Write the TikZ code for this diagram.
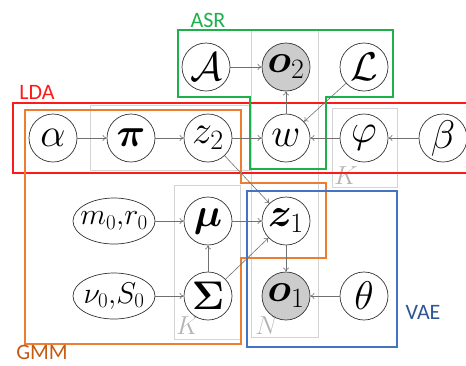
\documentclass[tikz,border=0pt]{standalone}
\usepackage{fix-cm}
\usepackage{amsmath,bm}
\usepackage{fontspec}
\newfontfamily\lblfont{Carlito}
\usetikzlibrary{arrows.meta,shapes.geometric}
\definecolor{asrgreen}{HTML}{1DB04B}
\definecolor{ldared}{HTML}{FF1A1A}
\definecolor{gmmorange}{HTML}{ED7D31}
\definecolor{gmmtext}{HTML}{C55A11}
\definecolor{vaeblue}{HTML}{4472C4}
\definecolor{vaetext}{HTML}{2F5597}
\definecolor{platecol}{HTML}{D4D4D4}
\definecolor{platetext}{HTML}{B4B4B4}
\definecolor{arrcol}{HTML}{707070}
\tikzset{
  var/.style={circle,draw=black!80,line width=0.7pt,minimum size=48pt,inner sep=0pt,fill=white,font=\fontsize{40}{42}\selectfont},
  obs/.style={var,fill=black!20},
  hyp/.style={ellipse,draw=black!80,line width=0.7pt,minimum width=82pt,minimum height=46pt,inner sep=0pt,fill=white},
  hyptext/.style={inner sep=0pt,font=\fontsize{30}{32}\selectfont},
  plate/.style={draw=platecol,line width=0.8pt},
  platelbl/.style={text=platetext,font=\fontsize{26}{28}\selectfont,inner sep=0pt},
  grp/.style={line width=1.2pt},
  grplbl/.style={font=\lblfont\fontsize{22}{24}\selectfont,inner sep=0pt},
  arr/.style={-{To[length=4pt,width=6pt]},draw=arrcol,line width=0.6pt}
}
\begin{document}
\begin{tikzpicture}[x=1pt,y=-1pt]
\useasboundingbox (0,0) rectangle (466,365);
% plates
\draw[plate] (251,30) rectangle (318,337);
\draw[plate] (90,105) rectangle (251,170);
\draw[plate] (332,108) rectangle (397,187);
\draw[plate] (174,185) rectangle (240,339);
\node[platelbl] (kphi) at (346,176) {$K$};
\node[platelbl] (kmu) at (188,326) {$K$};
\node[platelbl] (nn) at (267,326) {$N$};
% groups
\draw[grp,ldared] (13,103) rectangle (470,173);
\draw[grp,asrgreen] (178,30) -- (393,30) -- (393,97) -- (326,97) -- (326,169) -- (250,169) -- (250,97) -- (178,97) -- cycle;
\draw[grp,gmmorange] (25,110) -- (241,110) -- (241,183) -- (326,183) -- (326,258) -- (241,258) -- (241,344) -- (25,344) -- cycle;
\draw[grp,vaeblue] (247,191) rectangle (397,347);
\node[grplbl,text=asrgreen] (asr) at (208,20) {ASR};
\node[grplbl,text=ldared] (lda) at (37,92) {LDA};
\node[grplbl,text=gmmtext] (gmm) at (42,352) {GMM};
\node[grplbl,text=vaetext] (vae) at (423,312) {VAE};
% nodes
\node[var] (A) at (206,67) {$\mathcal{A}$};
\node[obs] (o2) at (286,67) {$\bm{o}_2$};
\node[var] (L) at (364,67) {$\mathcal{L}$};
\node[var] (alpha) at (53,138) {$\alpha$};
\node[var] (pi) at (131,138) {$\bm{\pi}$};
\node[var] (z2) at (208,138) {$z_2$};
\node[var] (w) at (286,138) {$w$};
\node[var] (phi) at (364,138) {$\varphi$};
\node[var] (beta) at (443,138) {$\beta$};
\node[hyp] (m0) at (114,221) {};
\node[hyptext] (m0t) at (m0) {$m_0{,}r_0$};
\node[var] (mu) at (208,221) {$\bm{\mu}$};
\node[var] (z1) at (286,221) {$\bm{z}_1$};
\node[hyp] (nu0) at (114,296) {};
\node[hyptext] (nu0t) at (nu0) {$\nu_0{,}S_0$};
\node[var] (Sigma) at (208,296) {$\bm{\Sigma}$};
\node[obs] (o1) at (286,296) {$\bm{o}_1$};
\node[var] (theta) at (364,296) {$\theta$};
% edges
\draw[arr] (A) -- (o2);
\draw[arr] (w) -- (o2);
\draw[arr] (L) -- (w);
\draw[arr] (alpha) -- (pi);
\draw[arr] (pi) -- (z2);
\draw[arr] (z2) -- (w);
\draw[arr] (phi) -- (w);
\draw[arr] (beta) -- (phi);
\draw[arr] (z2) -- (z1);
\draw[arr] (m0) -- (mu);
\draw[arr] (mu) -- (z1);
\draw[arr] (nu0) -- (Sigma);
\draw[arr] (Sigma) -- (mu);
\draw[arr] (Sigma) -- (z1);
\draw[arr] (z1) -- (o1);
\draw[arr] (theta) -- (o1);
\end{tikzpicture}
\end{document}
